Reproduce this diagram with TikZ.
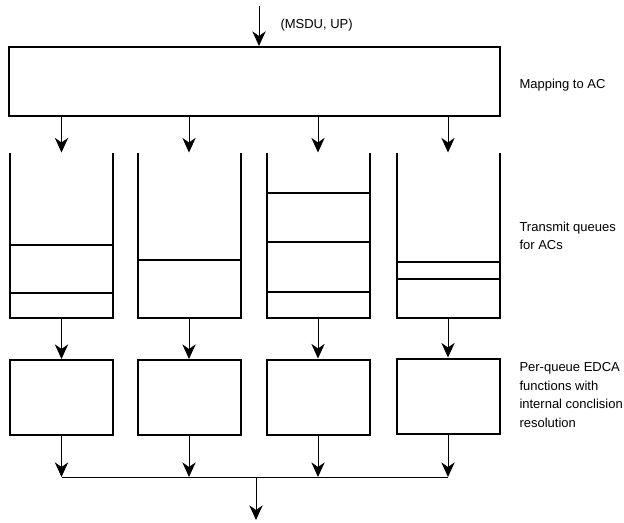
\documentclass[tikz,border=0pt]{standalone}
\usepackage{fontspec}
\setmainfont{Liberation Sans}
\usetikzlibrary{arrows.meta}

\tikzset{every picture/.style={line width=0.75pt}}
\tikzset{
  mapbox/.style={draw, line width=1.5pt, inner sep=0pt, minimum width=368.25pt, minimum height=51.75pt},
  queue/.style={inner sep=0pt, minimum width=76.5pt, minimum height=123pt},
  edcabox/.style={draw, line width=1.5pt, inner sep=0pt, minimum width=77.25pt, minimum height=56.25pt},
  slot/.style={line width=1.5pt},
  flow/.style={-{Stealth[length=11pt,width=10pt,inset=3.5pt]}, line width=0.75pt},
  lbl/.style={anchor=west, inner sep=0.75pt, align=left, font=\fontsize{9.75}{13.9}\selectfont}
}

\begin{document}
\begin{tikzpicture}[x=0.75pt,y=0.75pt,yscale=-1,xscale=1]
\useasboundingbox (0,0) rectangle (624,522);

%Mapping block
\node[mapbox] (map) at (254.5,81.5) {};
\coordinate (in) at (259,6);
\draw[flow] (in) -- (in |- map.north);

%Transmit queues
\node[queue] (q1) at (61.5,235) {};
\node[queue] (q2) at (189,235) {};
\node[queue] (q3) at (318,235) {};
\node[queue] (q4) at (448,235) {};
\foreach \q in {q1,q2,q3,q4}
  \draw[slot] (\q.north west) -- (\q.south west) -- (\q.south east) -- (\q.north east);
\foreach \q/\y in {q1/245,q1/293,q2/260,q3/193,q3/242,q3/292,q4/262,q4/279}
  \draw[slot] (\q.west |- 0,\y) -- (\q.east |- 0,\y);

%EDCA functions
\node[edcabox] (e1) at (61.5,397.5) {};
\node[edcabox] (e2) at (189,397.5) {};
\node[edcabox] (e3) at (318,397) {};
\node[edcabox] (e4) at (448,396) {};

%Arrows
\foreach \q/\e in {q1/e1,q2/e2,q3/e3,q4/e4} {
  \draw[flow] (map.south -| \q) -- (\q.north);
  \draw[flow] (\q.south) -- (\e.north);
}
\coordinate (bus) at (256,477);
\coordinate (out) at (256,520);
\foreach \e in {e1,e2,e3,e4}
  \draw[flow] (\e.south) -- (\e.south |- bus);
\draw (e1.south |- bus) -- (e4.south |- bus);
\draw[flow] (bus) -- (out);

% Text Node
\node[lbl] (msdu) at (279,25) {(MSDU, UP)};
% Text Node
\node[lbl] (maplbl) at (518,85) {Mapping to AC};
% Text Node
\node[lbl] (qlbl) at (518,236) {Transmit queues\\for ACs};
% Text Node
\node[lbl] (edcalbl) at (518,395) {Per-queue EDCA\\functions with\\internal conclision\\resolution};

\end{tikzpicture}
\end{document}
